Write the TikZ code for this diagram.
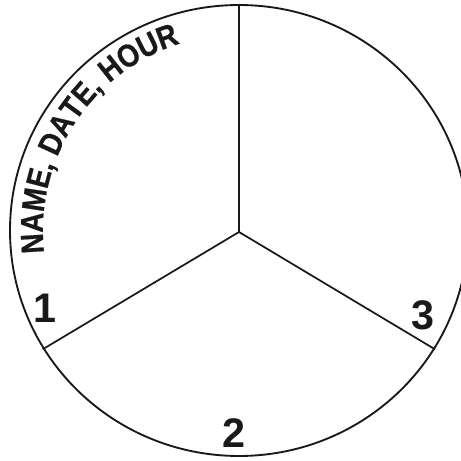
\documentclass[tikz,border=0pt]{standalone}
\usepackage{fontspec}
\setmainfont{Liberation Sans}
\newfontfamily\arcfont[FakeStretch=0.87,BoldFeatures={FakeStretch=0.87,FakeBold=0.6}]{Liberation Sans}
\usetikzlibrary{decorations.text,calc}
\begin{document}
\begin{tikzpicture}[x=0.75pt,y=0.75pt,
  rim/.style={line width=1.4pt, draw=black!90},
  spoke/.style={line width=1.3pt, draw=black!90},
  num/.style={font=\fontsize{31}{31}\selectfont\bfseries, inner sep=0pt, text=black!90}]
\useasboundingbox (0,0) rectangle (461,461);
\clip (0,0) rectangle (461,461);
\coordinate (c) at (239,230.5);
\coordinate (hub) at (239,229);
\coordinate (top) at (239,456);
\coordinate (ll) at (42.7,111.7);
\coordinate (lr) at (435,111.7);
\draw[rim] (c) ellipse [x radius=229, y radius=225.5];
\draw[spoke] (hub) -- (top);
\draw[spoke] (hub) -- (ll);
\draw[spoke] (hub) -- (lr);
\node[num] (n1) at (45,152.5) {1};
\node[num] (n2) at (234,28) {2};
\node[num] (n3) at (422.5,146) {3};
\path[decorate, decoration={text along path, text align=center,
  text={|\arcfont\bfseries\fontsize{24}{24}\selectfont\color{black!90}|NAME{,} DATE{,} HOUR}}]
  ($(c)+(205:196)$) arc[start angle=205, end angle=89, radius=196];
\end{tikzpicture}
\end{document}
